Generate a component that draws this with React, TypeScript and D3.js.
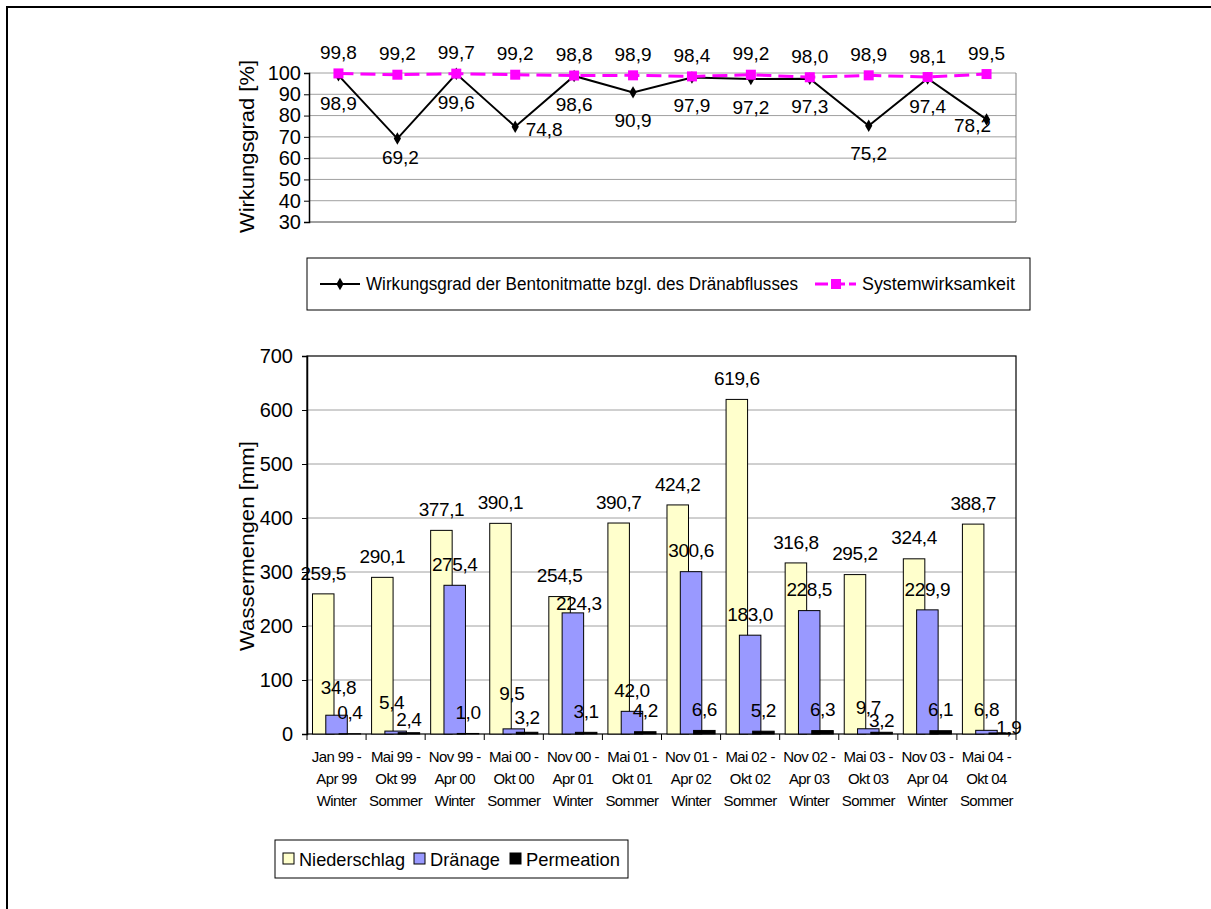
import React, { useRef, useEffect } from 'react';
import * as d3 from 'd3';

// period labels (3 lines under each group)
const periodStarts = ['Jan 99 -', 'Mai 99 -', 'Nov 99 -', 'Mai 00 -', 'Nov 00 -', 'Mai 01 -', 'Nov 01 -', 'Mai 02 -', 'Nov 02 -', 'Mai 03 -', 'Nov 03 -', 'Mai 04 -'];
const periodEnds = ['Apr 99', 'Okt 99', 'Apr 00', 'Okt 00', 'Apr 01', 'Okt 01', 'Apr 02', 'Okt 02', 'Apr 03', 'Okt 03', 'Apr 04', 'Okt 04'];
const seasons = ['Winter', 'Sommer', 'Winter', 'Sommer', 'Winter', 'Sommer', 'Winter', 'Sommer', 'Winter', 'Sommer', 'Winter', 'Sommer'];

// Wirkungsgrad [%]
const bentonitEfficiency = [98.9, 69.2, 99.6, 74.8, 98.6, 90.9, 97.9, 97.2, 97.3, 75.2, 97.4, 78.2];
const systemEfficiency = [99.8, 99.2, 99.7, 99.2, 98.8, 98.9, 98.4, 99.2, 98.0, 98.9, 98.1, 99.5];

// Wassermengen [mm]
const precipitation = [259.5, 290.1, 377.1, 390.1, 254.5, 390.7, 424.2, 619.6, 316.8, 295.2, 324.4, 388.7];
const drainage = [34.8, 5.4, 275.4, 9.5, 224.3, 42.0, 300.6, 183.0, 228.5, 9.7, 229.9, 6.8];
const permeation = [0.4, 2.4, 1.0, 3.2, 3.1, 4.2, 6.6, 5.2, 6.3, 3.2, 6.1, 1.9];

const efficiencyTicks = [30, 40, 50, 60, 70, 80, 90, 100];
const volumeTicks = [0, 100, 200, 300, 400, 500, 600, 700];

const FONT = '"Liberation Sans", Arial, sans-serif';
const fmt = (v: number) => v.toFixed(1).replace('.', ',');

// label nudges where the original labels were moved by hand [dx, dy]
const bentonitLabelNudge: Record<number, [number, number]> = { 1: [3, -9], 3: [29, -25], 11: [-14, -22] };
const drainageLabelNudge: Record<number, [number, number]> = { 0: [2, -7], 1: [-4, -8], 3: [-2, -15], 4: [6, 11] };
const permeationLabelNudge: Record<number, [number, number]> = { 1: [0, 8], 3: [0, 6], 9: [0, 9], 11: [9, 15] };

const Charts: React.FC = () => {
  const svgRef = useRef<SVGSVGElement | null>(null);

  useEffect(() => {
    if (!svgRef.current) return;
    const svg = d3.select(svgRef.current);
    svg.selectAll('*').remove();
    svg.style('font-family', FONT);

    const idx = d3.range(periodStarts.length).map(String);

    // outer frame
    svg.append('rect')
      .attr('x', 7).attr('y', 7).attr('width', 1240).attr('height', 940)
      .attr('fill', 'none').attr('stroke', '#000').attr('stroke-width', 2);

    // ---------- top chart ----------
    const top = { left: 309, right: 1016, top: 73, bottom: 222 };
    const xT = d3.scaleBand().domain(idx).range([top.left, top.right]);
    const yT = d3.scaleLinear().domain([30, 100]).range([top.bottom, top.top]);
    const cxT = (i: number) => xT(String(i))! + xT.bandwidth() / 2;

    const gT = svg.append('g');
    gT.selectAll('line.grid')
      .data(efficiencyTicks.filter(t => t > 30))
      .join('line')
      .attr('x1', top.left).attr('x2', top.right)
      .attr('y1', d => yT(d)).attr('y2', d => yT(d))
      .attr('stroke', '#a0a0a0').attr('stroke-width', 1);
    gT.append('line')
      .attr('x1', top.right).attr('x2', top.right).attr('y1', top.top).attr('y2', top.bottom)
      .attr('stroke', '#808080');
    gT.append('line')
      .attr('x1', top.left).attr('x2', top.right).attr('y1', top.bottom).attr('y2', top.bottom)
      .attr('stroke', '#404040');

    const axT = gT.append('g')
      .attr('transform', `translate(${top.left},0)`)
      .call(d3.axisLeft(yT).tickValues(efficiencyTicks).tickSize(5).tickPadding(3));
    axT.select('.domain').attr('stroke', '#000').attr('stroke-width', 1.5);
    axT.selectAll('text').attr('font-size', 20).attr('fill', '#000').style('font-family', FONT);

    svg.append('text')
      .attr('transform', `translate(254,${(top.top + top.bottom) / 2 - 1}) rotate(-90)`)
      .attr('text-anchor', 'middle').attr('font-size', 20)
      .attr('textLength', 173).attr('lengthAdjust', 'spacingAndGlyphs')
      .text('Wirkungsgrad [%]');

    const lineT = d3.line<number>().x((_, i) => cxT(i)).y(d => yT(d));

    gT.append('path')
      .datum(bentonitEfficiency)
      .attr('fill', 'none').attr('stroke', '#000').attr('stroke-width', 2)
      .attr('d', lineT);
    gT.selectAll('path.dia')
      .data(bentonitEfficiency)
      .join('path')
      .attr('d', d3.symbol(d3.symbolDiamond, 45))
      .attr('transform', (d, i) => `translate(${cxT(i)},${yT(d)})`)
      .attr('fill', '#000');

    gT.append('path')
      .datum(systemEfficiency)
      .attr('fill', 'none').attr('stroke', '#FF00FF').attr('stroke-width', 3)
      .attr('stroke-dasharray', '15,7')
      .attr('d', lineT);
    gT.selectAll('rect.sq')
      .data(systemEfficiency)
      .join('rect')
      .attr('x', (d, i) => cxT(i) - 5).attr('y', d => yT(d) - 5)
      .attr('width', 10).attr('height', 10)
      .attr('fill', '#FF00FF');

    gT.selectAll('text.sys')
      .data(systemEfficiency)
      .join('text')
      .attr('x', (d, i) => cxT(i)).attr('y', d => yT(d) - 21)
      .attr('dy', '0.35em').attr('text-anchor', 'middle').attr('font-size', 19)
      .text(d => fmt(d));
    gT.selectAll('text.ben')
      .data(bentonitEfficiency)
      .join('text')
      .attr('x', (d, i) => cxT(i) + (bentonitLabelNudge[i]?.[0] ?? 0))
      .attr('y', (d, i) => yT(d) + 28 + (bentonitLabelNudge[i]?.[1] ?? 0))
      .attr('dy', '0.35em').attr('text-anchor', 'middle').attr('font-size', 19)
      .text(d => fmt(d));

    // top legend
    const lgT = svg.append('g');
    lgT.append('rect')
      .attr('x', 307).attr('y', 258).attr('width', 723).attr('height', 52)
      .attr('fill', '#fff').attr('stroke', '#000').attr('stroke-width', 1);
    lgT.append('line').attr('x1', 320).attr('x2', 360).attr('y1', 284).attr('y2', 284)
      .attr('stroke', '#000').attr('stroke-width', 2);
    lgT.append('path').attr('d', d3.symbol(d3.symbolDiamond, 45))
      .attr('transform', 'translate(340,284)').attr('fill', '#000');
    lgT.append('text').attr('x', 366).attr('y', 284).attr('dy', '0.35em').attr('font-size', 18)
      .attr('textLength', 432).attr('lengthAdjust', 'spacingAndGlyphs')
      .text('Wirkungsgrad der Bentonitmatte bzgl. des Dränabflusses');
    lgT.append('line').attr('x1', 815).attr('x2', 856).attr('y1', 284).attr('y2', 284)
      .attr('stroke', '#FF00FF').attr('stroke-width', 3).attr('stroke-dasharray', '13,4');
    lgT.append('rect').attr('x', 831).attr('y', 279).attr('width', 10).attr('height', 10)
      .attr('fill', '#FF00FF');
    lgT.append('text').attr('x', 862).attr('y', 284).attr('dy', '0.35em').attr('font-size', 18)
      .attr('textLength', 153).attr('lengthAdjust', 'spacingAndGlyphs')
      .text('Systemwirksamkeit');

    // ---------- bottom chart ----------
    const bot = { left: 307, right: 1016, top: 356, bottom: 734 };
    const xB = d3.scaleBand().domain(idx).range([bot.left, bot.right]);
    const yB = d3.scaleLinear().domain([0, 700]).range([bot.bottom, bot.top]);
    const barW = 21.5;
    const step = 13.3;
    const groupPad = (xB.bandwidth() - (barW + 2 * step)) / 2;
    const barX = (i: number, s: number) => xB(String(i))! + groupPad + s * step;

    const gB = svg.append('g');
    gB.selectAll('line.grid')
      .data(volumeTicks.filter(t => t > 0 && t < 700))
      .join('line')
      .attr('x1', bot.left).attr('x2', bot.right)
      .attr('y1', d => yB(d)).attr('y2', d => yB(d))
      .attr('stroke', '#a0a0a0').attr('stroke-width', 1);
    gB.append('rect')
      .attr('x', bot.left).attr('y', bot.top)
      .attr('width', bot.right - bot.left).attr('height', bot.bottom - bot.top)
      .attr('fill', 'none').attr('stroke', '#000').attr('stroke-width', 1.2);

    const series = [
      { values: precipitation, color: '#FFFFCC', nudge: {} as Record<number, [number, number]> },
      { values: drainage, color: '#9999FF', nudge: drainageLabelNudge },
      { values: permeation, color: '#000000', nudge: permeationLabelNudge },
    ];

    series.forEach((s, si) => {
      gB.selectAll(`rect.bar${si}`)
        .data(s.values)
        .join('rect')
        .attr('x', (d, i) => barX(i, si))
        .attr('y', d => yB(d))
        .attr('width', barW)
        .attr('height', d => yB(0) - yB(d))
        .attr('fill', s.color)
        .attr('stroke', '#000').attr('stroke-width', 1);
    });
    series.forEach((s, si) => {
      gB.selectAll(`text.lab${si}`)
        .data(s.values)
        .join('text')
        .attr('x', (d, i) => barX(i, si) + barW / 2 + (s.nudge[i]?.[0] ?? 0))
        .attr('y', (d, i) => yB(d) - 21 + (s.nudge[i]?.[1] ?? 0))
        .attr('dy', '0.35em').attr('text-anchor', 'middle').attr('font-size', 19)
        .attr('letter-spacing', -0.4)
        .text(d => fmt(d));
    });

    const axB = gB.append('g')
      .attr('transform', `translate(${bot.left},0)`)
      .call(d3.axisLeft(yB).tickValues(volumeTicks).tickSize(5).tickPadding(9));
    axB.select('.domain').attr('stroke', '#000').attr('stroke-width', 1.5);
    axB.selectAll('text').attr('font-size', 20).attr('fill', '#000').style('font-family', FONT);

    // category ticks
    gB.selectAll('line.xtick')
      .data(d3.range(periodStarts.length + 1))
      .join('line')
      .attr('x1', i => bot.left + i * xB.bandwidth()).attr('x2', i => bot.left + i * xB.bandwidth())
      .attr('y1', bot.bottom).attr('y2', bot.bottom + 6)
      .attr('stroke', '#000');

    const cxB = (i: number) => xB(String(i))! + xB.bandwidth() / 2;
    [periodStarts, periodEnds, seasons].forEach((rowLabels, r) => {
      gB.selectAll(`text.xl${r}`)
        .data(rowLabels)
        .join('text')
        .attr('x', (d, i) => cxB(i))
        .attr('y', 757 + r * 22)
        .attr('dy', '0.35em').attr('text-anchor', 'middle').attr('font-size', 15)
        .attr('letter-spacing', -0.6)
        .text(d => d);
    });

    svg.append('text')
      .attr('transform', `translate(254,${(bot.top + bot.bottom) / 2 + 1}) rotate(-90)`)
      .attr('text-anchor', 'middle').attr('font-size', 20)
      .attr('textLength', 210).attr('lengthAdjust', 'spacingAndGlyphs')
      .text('Wassermengen [mm]');

    // bottom legend
    const lgB = svg.append('g');
    lgB.append('rect')
      .attr('x', 275).attr('y', 840).attr('width', 353).attr('height', 38)
      .attr('fill', '#fff').attr('stroke', '#000').attr('stroke-width', 1);
    const legendItems = [
      { label: 'Niederschlag', color: '#FFFFCC', sx: 283, tx: 299, tw: 106 },
      { label: 'Dränage', color: '#9999FF', sx: 414, tx: 430, tw: 70 },
      { label: 'Permeation', color: '#000000', sx: 510, tx: 526, tw: 94 },
    ];
    legendItems.forEach(it => {
      lgB.append('rect').attr('x', it.sx).attr('y', 853).attr('width', 11).attr('height', 11)
        .attr('fill', it.color).attr('stroke', '#000');
      lgB.append('text').attr('x', it.tx).attr('y', 859).attr('dy', '0.35em').attr('font-size', 19)
        .attr('textLength', it.tw).attr('lengthAdjust', 'spacingAndGlyphs')
        .text(it.label);
    });
  }, []);

  return (
    <svg ref={svgRef} width={1211} height={909}
      style={{ position: 'absolute', left: 0, top: 0, background: '#fff' }} />
  );
};

export default function App() {
  return <Charts />;
}
